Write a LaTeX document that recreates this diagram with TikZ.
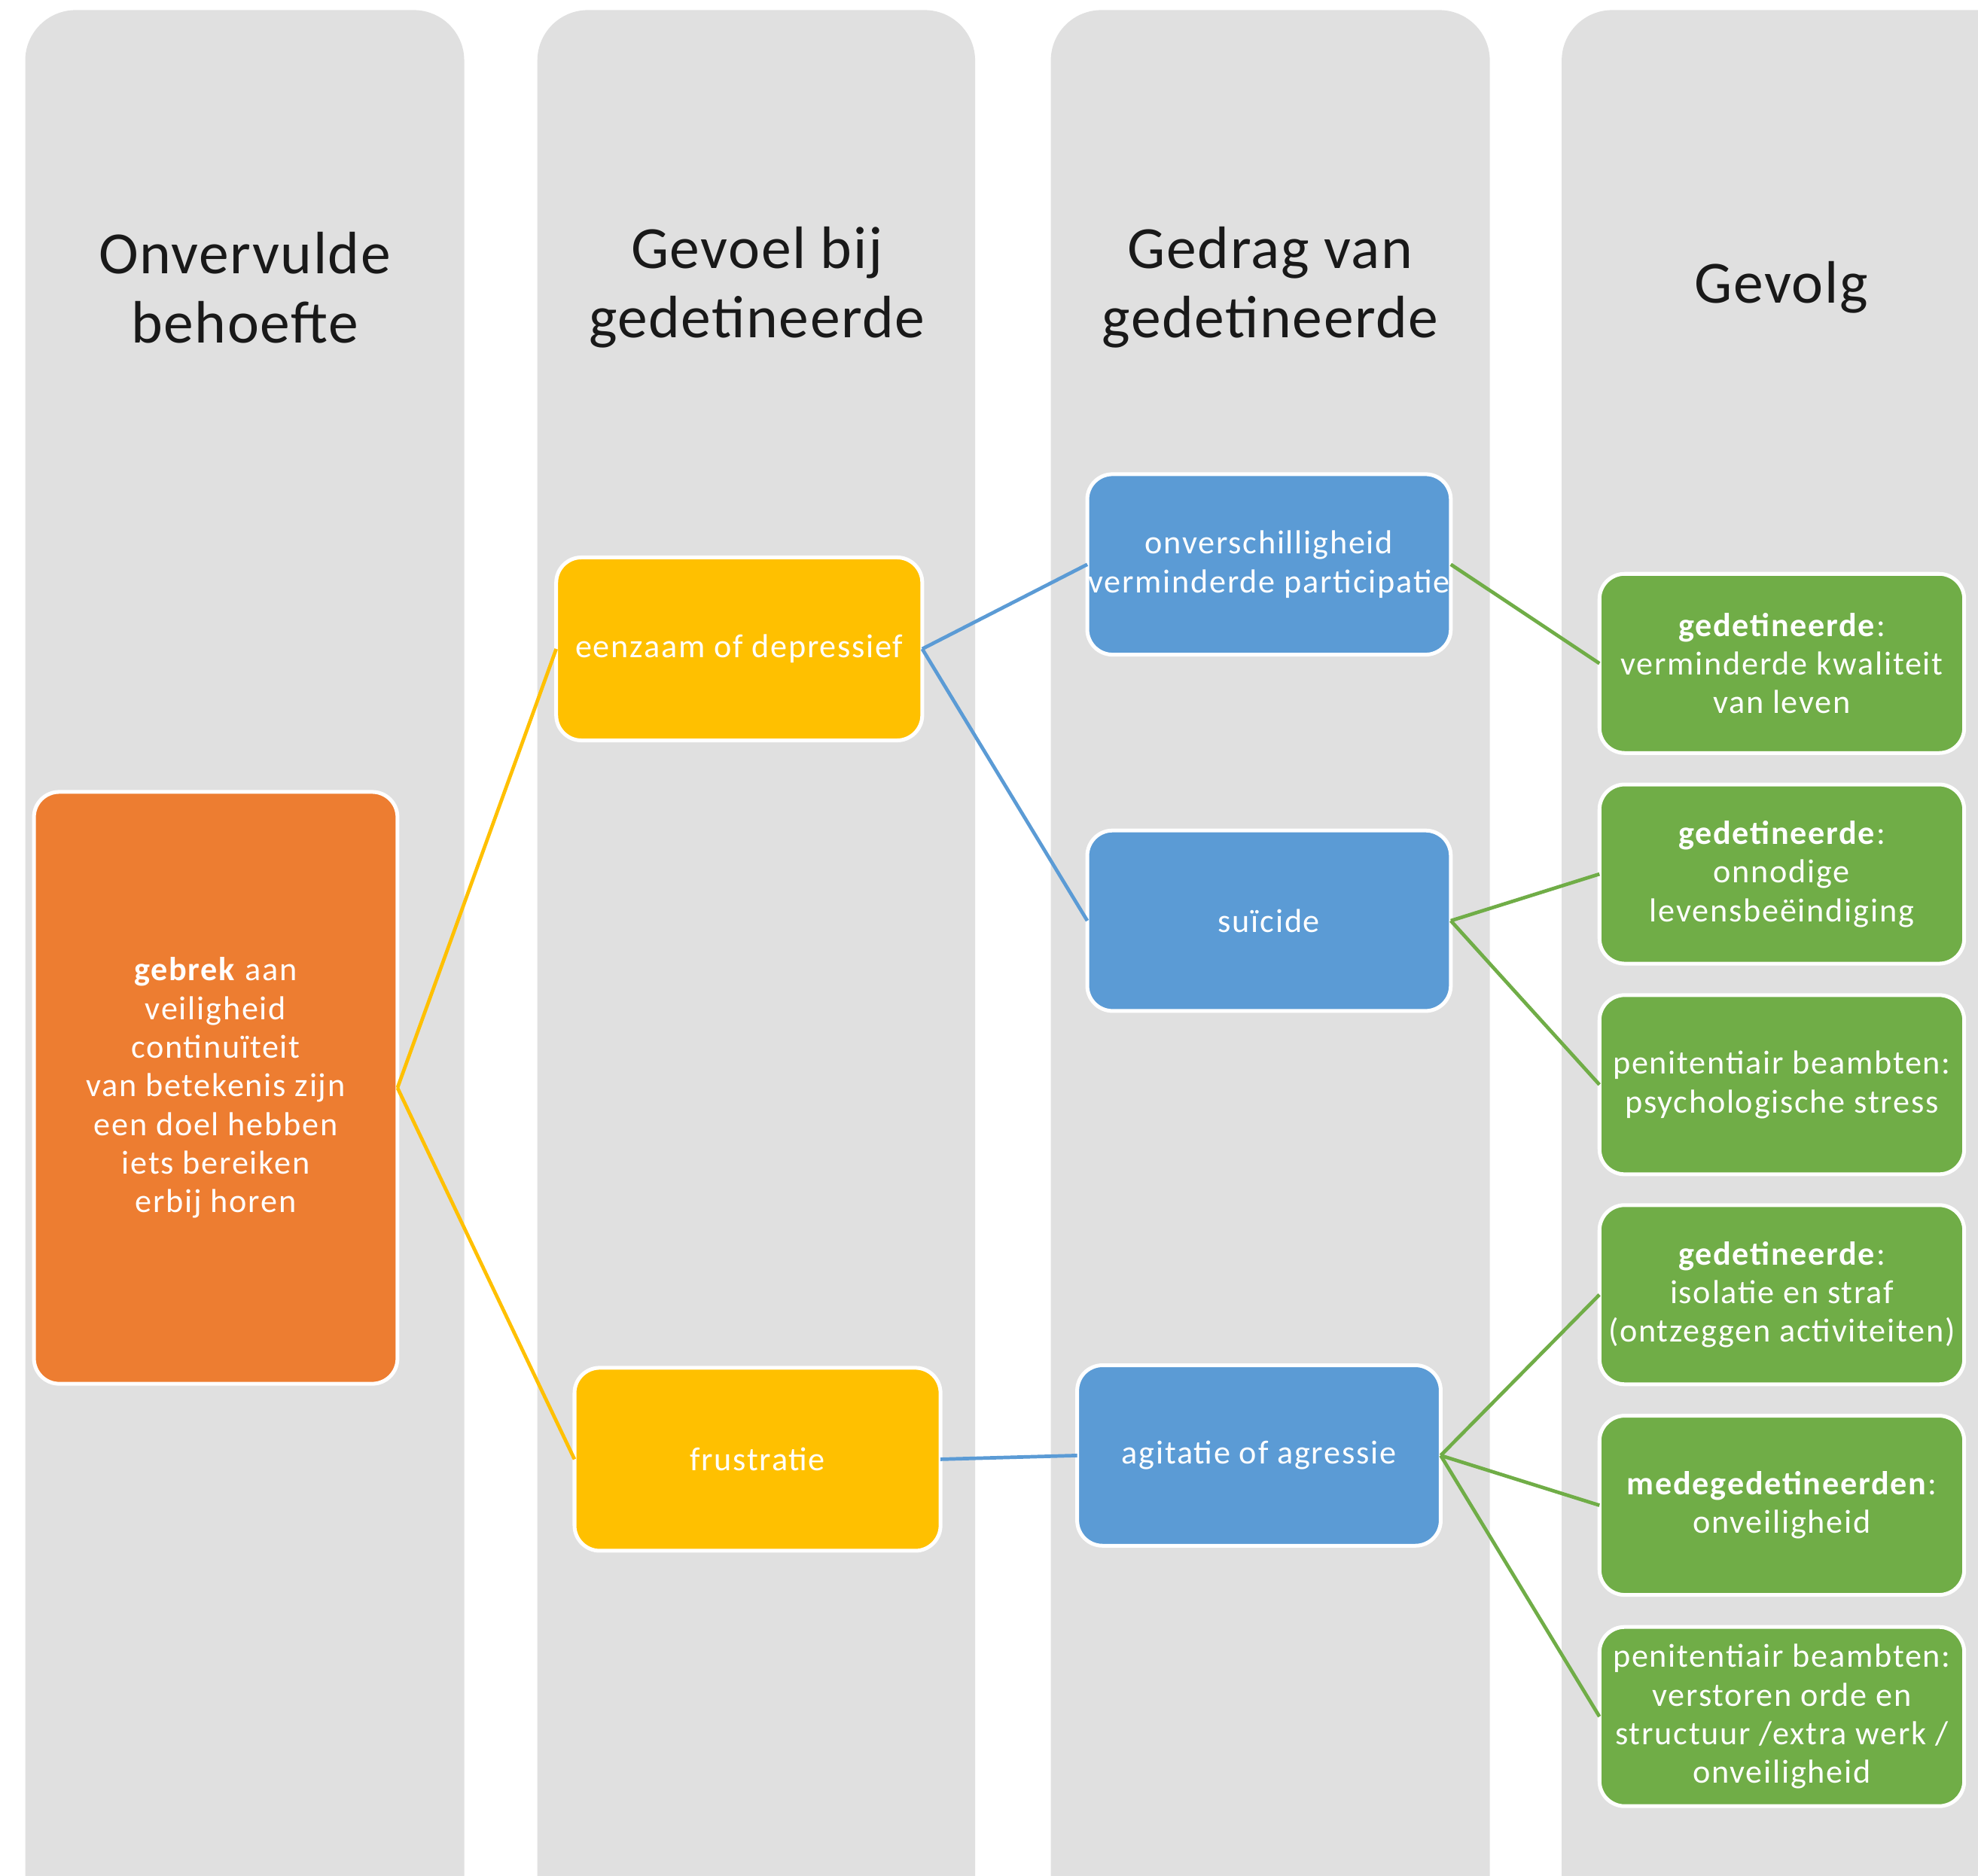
\documentclass[tikz,border=0pt]{standalone}
\usepackage{fontspec}
\setmainfont{Carlito}
\newfontfamily\boxfont[LetterSpace=4]{Carlito}
\newfontfamily\titlefont[LetterSpace=2]{Carlito}
\definecolor{colgray}{HTML}{E0E0E0}
\definecolor{corange}{HTML}{ED7D31}
\definecolor{cyellow}{HTML}{FFC000}
\definecolor{cblue}{HTML}{5B9BD5}
\definecolor{cgreen}{HTML}{70AD47}
\begin{document}
\begin{tikzpicture}[x=0.01cm,y=-0.01cm,
  column/.style={fill=colgray,draw=none,rounded corners=0.4cm},
  title/.style={align=center,text=black!90,font=\titlefont\fontsize{13.5}{15.6}\selectfont,inner sep=0pt},
  box/.style={draw=white,line width=0.03cm,rounded corners=0.2cm,text=white,align=center,
    font=\boxfont\fontsize{7.5}{8.7}\selectfont,inner sep=0pt,outer sep=0pt},
  obox/.style={box,fill=corange,minimum width=2.88cm,minimum height=4.69cm},
  ybox/.style={box,fill=cyellow,minimum width=2.9cm,minimum height=1.45cm},
  bbox/.style={box,fill=cblue,minimum width=2.88cm,minimum height=1.43cm},
  gbox/.style={box,fill=cgreen,minimum width=2.89cm,minimum height=1.42cm},
  yline/.style={draw=cyellow,line width=0.8pt},
  bline/.style={draw=cblue,line width=0.8pt},
  gline/.style={draw=cgreen,line width=0.8pt}]
\useasboundingbox (0,0) rectangle (1568,1487);
\clip (0,0) rectangle (1568,1487);
\fill[white] (0,0) rectangle (1568,1487);
% columns
\path[column] (20,8) rectangle (368,1540);
\path[column] (426,8) rectangle (773,1540);
\path[column] (833,8) rectangle (1181,1540);
\path[column] (1238,8) rectangle (1640,1540);
% titles
\node[title] (t1) at (194,228) {Onvervulde\\behoefte};
\node[title] (t2) at (600,228) {Gevoel bij\\gedetineerde};
\node[title] (t3) at (1007,228) {Gedrag van\\gedetineerde};
\node[title] (t4) at (1412,228) {Gevolg};
% boxes
\node[obox] (o) at (171,862.5) {\textbf{gebrek} aan\\veiligheid\\continuïteit\\van betekenis zijn\\een doel hebben\\iets bereiken\\erbij horen};
\node[ybox] (y1) at (586,514.5) {eenzaam of depressief};
\node[ybox] (y2) at (600.5,1157) {frustratie};
\node[bbox] (b1) at (1006,447.5) {onverschilligheid\\verminderde participatie};
\node[bbox] (b2) at (1006,730) {suïcide};
\node[bbox] (b3) at (998,1154) {agitatie of agressie};
\node[gbox] (g1) at (1412.5,526) {\textbf{gedetineerde}:\\verminderde kwaliteit\\van leven};
\node[gbox] (g2) at (1412.5,693) {\textbf{gedetineerde}:\\onnodige\\levensbeëindiging};
\node[gbox] (g3) at (1412.5,860) {penitentiair beambten:\\psychologische stress};
\node[gbox] (g4) at (1412.5,1026.5) {\textbf{gedetineerde}:\\isolatie en straf\\(ontzeggen activiteiten)};
\node[gbox] (g5) at (1412.5,1193.5) {\textbf{medegedetineerden}:\\onveiligheid};
\node[gbox] (g6) at (1412.5,1361) {penitentiair beambten:\\verstoren orde en\\structuur /extra werk /\\onveiligheid};
% connectors
\path[yline] (o.east) -- (y1.west);
\path[yline] (o.east) -- (y2.west);
\path[bline] (y1.east) -- (b1.west);
\path[bline] (y1.east) -- (b2.west);
\path[bline] (y2.east) -- (b3.west);
\path[gline] (b1.east) -- (g1.west);
\path[gline] (b2.east) -- (g2.west);
\path[gline] (b2.east) -- (g3.west);
\path[gline] (b3.east) -- (g4.west);
\path[gline] (b3.east) -- (g5.west);
\path[gline] (b3.east) -- (g6.west);
\end{tikzpicture}
\end{document}
